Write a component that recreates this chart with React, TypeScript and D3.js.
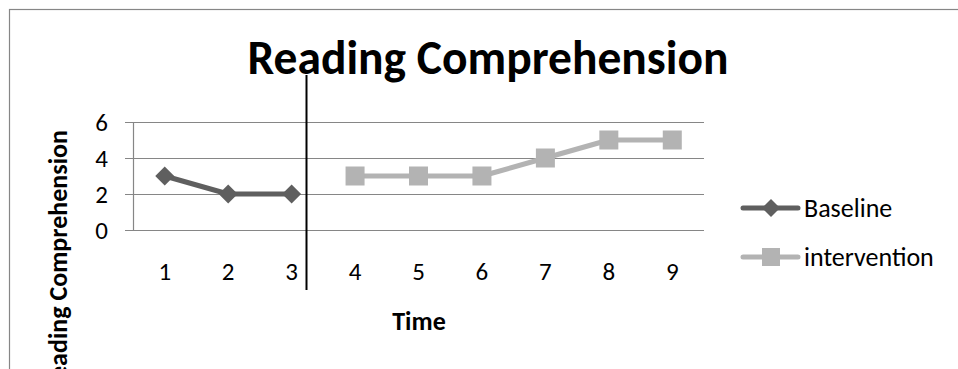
import React from "react";
import * as d3 from "d3";

const WIDTH = 958;
const HEIGHT = 369;

// Time points on the category axis
const categories = ["1", "2", "3", "4", "5", "6", "7", "8", "9"];
// Baseline phase scores (time 1-3)
const baselineTimes = ["1", "2", "3"];
const baselineValues = [3, 2, 2];
// Intervention phase scores (time 4-9)
const interventionTimes = ["4", "5", "6", "7", "8", "9"];
const interventionValues = [3, 3, 3, 4, 5, 5];
// Value axis ticks
const yTicks = [0, 2, 4, 6];

const FONT = "Carlito, Calibri, Lato, 'Open Sans', sans-serif";
const GRID = "#868686";
const BASE_COLOR = "#5f5f5f";
const INT_COLOR = "#b3b3b3";

export default function App() {
  const x = d3.scaleBand<string>().domain(categories).range([133, 704]);
  const cx = (c: string) => (x(c) as number) + x.bandwidth() / 2;
  const y = d3.scaleLinear().domain([0, 6]).range([230, 122]);

  const line = d3
    .line<[string, number]>()
    .x((d) => cx(d[0]))
    .y((d) => y(d[1]));

  const basePts: [string, number][] = baselineTimes.map((t, i) => [t, baselineValues[i]]);
  const intPts: [string, number][] = interventionTimes.map((t, i) => [t, interventionValues[i]]);

  const diamond = (px: number, py: number, r: number) =>
    `M${px},${py - r}L${px + r},${py}L${px},${py + r}L${px - r},${py}Z`;

  const legend = [
    { label: "Baseline", color: BASE_COLOR, shape: "diamond", y: 208 },
    { label: "intervention", color: INT_COLOR, shape: "square", y: 257 },
  ];

  return (
    <svg
      width={WIDTH}
      height={HEIGHT}
      style={{ position: "absolute", left: 0, top: 0, background: "#fff" }}
      fontFamily={FONT}
    >
      <rect x={0} y={0} width={WIDTH} height={HEIGHT} fill="#fff" />
      {/* chart frame */}
      <rect x={9.5} y={9.5} width={1200} height={600} fill="none" stroke={GRID} strokeWidth={1.2} />

      {/* title */}
      <text x={488} y={74} textAnchor="middle" fontSize={47.5} fontWeight="bold" fill="#000">
        Reading Comprehension
      </text>

      {/* gridlines and ticks */}
      {yTicks.map((t) => (
        <g key={t}>
          <line x1={125} x2={704} y1={Math.round(y(t)) + 0.5} y2={Math.round(y(t)) + 0.5} stroke={GRID} strokeWidth={1.2} />
          <text x={108} y={y(t)} dy="0.35em" textAnchor="end" fontSize={25} fill="#000">
            {t}
          </text>
        </g>
      ))}
      <line x1={133.5} x2={133.5} y1={y(6)} y2={y(0)} stroke={GRID} strokeWidth={1.2} />

      {/* category labels */}
      {categories.map((c) => (
        <text key={c} x={cx(c)} y={280} textAnchor="middle" fontSize={25} fill="#000">
          {c}
        </text>
      ))}

      {/* axis titles */}
      <text x={419} y={330} textAnchor="middle" fontSize={26} fontWeight="bold" fill="#000">
        Time
      </text>
      <text
        transform="translate(67,130) rotate(-90)"
        textAnchor="end"
        fontSize={26}
        fontWeight="bold"
        fill="#000"
      >
        Reading Comprehension
      </text>

      {/* baseline series */}
      <path d={line(basePts) || ""} fill="none" stroke={BASE_COLOR} strokeWidth={5} strokeLinejoin="round" />
      {basePts.map((d) => (
        <path key={d[0]} d={diamond(cx(d[0]), y(d[1]), 9.5)} fill={BASE_COLOR} />
      ))}

      {/* intervention series */}
      <path d={line(intPts) || ""} fill="none" stroke={INT_COLOR} strokeWidth={5} strokeLinejoin="round" />
      {intPts.map((d) => (
        <rect key={d[0]} x={cx(d[0]) - 9.5} y={y(d[1]) - 9.5} width={19} height={19} fill={INT_COLOR} />
      ))}

      {/* phase change line */}
      <line x1={306.5} x2={306.5} y1={75} y2={290} stroke="#000" strokeWidth={2} />

      {/* legend */}
      {legend.map((l) => (
        <g key={l.label}>
          <line x1={743} x2={798} y1={l.y} y2={l.y} stroke={l.color} strokeWidth={5} strokeLinecap="round" />
          {l.shape === "diamond" ? (
            <path d={diamond(771, l.y, 9)} fill={l.color} />
          ) : (
            <rect x={762} y={l.y - 9} width={18} height={18} fill={l.color} />
          )}
          <text x={804} y={l.y} dy="0.33em" fontSize={26} fill="#000">
            {l.label}
          </text>
        </g>
      ))}
    </svg>
  );
}
